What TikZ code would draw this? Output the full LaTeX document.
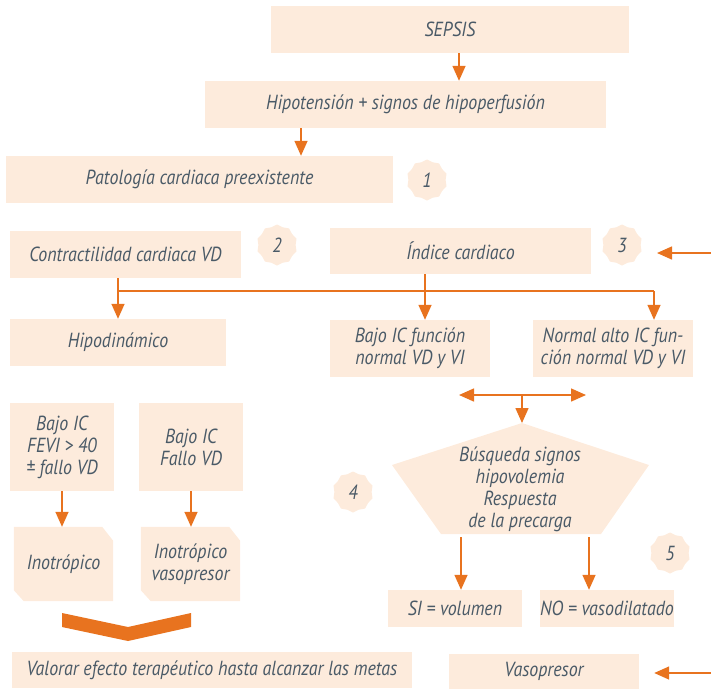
\documentclass[tikz,border=0pt]{standalone}
\usepackage{fontspec}
\usetikzlibrary{arrows.meta,shapes.geometric,backgrounds}
\newfontfamily\dfont[FakeStretch=0.88]{PT Sans}
\definecolor{peach}{HTML}{FDEBDC}
\definecolor{orng}{HTML}{E8731F}
\definecolor{ink}{HTML}{4A5A67}
\tikzset{
  txt/.style={font=\dfont\itshape\fontsize{20.4}{22}\selectfont, text=ink, align=center, inner sep=0pt},
  box/.style={txt, fill=peach, minimum width=#1},
  box/.default=100pt,
  badge/.style={star, star points=10, star point ratio=1.1, fill=peach, minimum size=41pt, inner sep=0pt, font=\dfont\itshape\fontsize{20.4}{22}\selectfont, text=ink},
  cline/.style={draw=orng, line width=1.5pt},
  arr/.style={cline, -{Triangle[width=13pt,length=15pt]}},
  darr/.style={cline, {Triangle[width=13pt,length=15pt]}-{Triangle[width=13pt,length=15pt]}}
}
\begin{document}
\begin{tikzpicture}[x=1pt,y=-1pt]
\useasboundingbox (0,0) rectangle (711,689);
% boxes
\node[box=358pt, minimum height=47pt] (sepsis) at (450,29.5) {SEPSIS};
\node[box=401pt, minimum height=47pt] (hipo) at (405.5,104.5) {Hipotensión + signos de hipoperfusión};
\node[box=387pt, minimum height=47pt] (pato) at (199.5,179.5) {Patología cardiaca preexistente};
\node[box=231pt, minimum height=47pt] (contr) at (125.5,254.5) {Contractilidad cardiaca VD};
\node[box=261pt, minimum height=46pt] (indice) at (460.5,251) {Índice cardiaco};
\node[box=216pt, minimum height=47pt] (hipodin) at (118,342.5) {Hipodinámico};
\node[box=160pt, minimum height=57pt] (bajo) at (410,348.5) {Bajo IC función\\normal VD y VI};
\node[box=160pt, minimum height=57pt] (normal) at (613,348.5) {Normal alto IC fun-\\ción normal VD y VI};
\node[box=104pt, minimum height=88pt] (fevi) at (62,447) {Bajo IC\\FEVI > 40\\± fallo VD};
\node[box=104pt, minimum height=88pt] (fallo) at (191,447) {Bajo IC\\Fallo VD};
\node[box=400pt, minimum height=36pt] (valorar) at (212,670) {Valorar efecto terapéutico hasta alcanzar las metas};
\node[box=134pt, minimum height=37pt] (si) at (455,608.5) {SI = volumen};
\node[box=134pt, minimum height=37pt] (no) at (607,608.5) {NO = vasodilatado};
\node[box=190pt, minimum height=35pt] (vaso) at (544,671.5) {Vasopresor};
% chamfered boxes
\node[txt, minimum width=99pt, minimum height=74pt] (ino1) at (63.5,564) {Inotrópico};
\node[txt, minimum width=99pt, minimum height=74pt] (ino2) at (190.5,564) {Inotrópico\\vasopresor};
% pentagon
\coordinate (pT) at (522,423);
\coordinate (pL) at (392,465);
\coordinate (pR) at (649,465);
\coordinate (pBL) at (441,534);
\coordinate (pBR) at (601,534);
\node[txt] (busq) at (520,489) {Búsqueda signos\\hipovolemia\\Respuesta\\de la precarga};
\begin{scope}[on background layer]
  \fill[peach] (pT) -- (pR) -- (pBR) -- (pBL) -- (pL) -- cycle;
  \foreach \n in {ino1,ino2}{
    \fill[peach] (\n.north west) -- ([xshift=-11pt]\n.north east) -- ([yshift=-14pt]\n.north east)
      -- (\n.south east) -- ([xshift=10pt]\n.south west) -- ([yshift=11pt]\n.south west) -- cycle;
  }
\end{scope}
% badges
\node[badge] (b1) at (427,180) {1};
\node[badge] (b2) at (277,245) {2};
\node[badge] (b3) at (622,245) {3};
\node[badge] (b4) at (353,492) {4};
\node[badge] (b5) at (670,553) {5};
% arrows
\coordinate (s1) at ([xshift=9pt]sepsis.south);
\draw[arr] (s1) -- (s1 |- hipo.north);
\coordinate (h1) at ([xshift=-104.5pt]hipo.south);
\draw[arr] (h1) -- (h1 |- pato.north);
\coordinate (busL) at (118,291);
\coordinate (busR) at (654,291);
\draw[arr] (contr.south -| hipodin.north) -- (hipodin.north);
\draw[cline] (busL) -- (busR);
\draw[arr] (busR) -- (busR |- normal.north);
\coordinate (i1) at ([xshift=-35.5pt]indice.south);
\draw[arr] (i1) -- (i1 |- bajo.north);
\coordinate (in3) at (711,253);
\coordinate (t3) at (657,253);
\draw[arr] (in3) -- (t3);
\coordinate (dm) at (522,395);
\coordinate (dl) at (459,395);
\coordinate (dr) at (586,395);
\draw[darr] (dl) -- (dr);
\draw[arr] (dm) -- (pT);
\coordinate (pa1) at (461,537);
\coordinate (pa2) at (589,537);
\draw[arr] (pa1) -- (pa1 |- si.north);
\draw[arr] (pa2) -- (pa2 |- no.north);
\draw[arr] (fevi.south) -- (fevi.south |- ino1.north);
\draw[arr] (fallo.south) -- (fallo.south |- ino2.north);
\coordinate (inV) at (711,673);
\draw[arr] (inV) -- ([xshift=15pt]vaso.east |- inV);
% chevron
\fill[orng] (62,613) -- (128,627) -- (191,613) -- (191,627) -- (128,641) -- (62,627) -- cycle;
\end{tikzpicture}
\end{document}
